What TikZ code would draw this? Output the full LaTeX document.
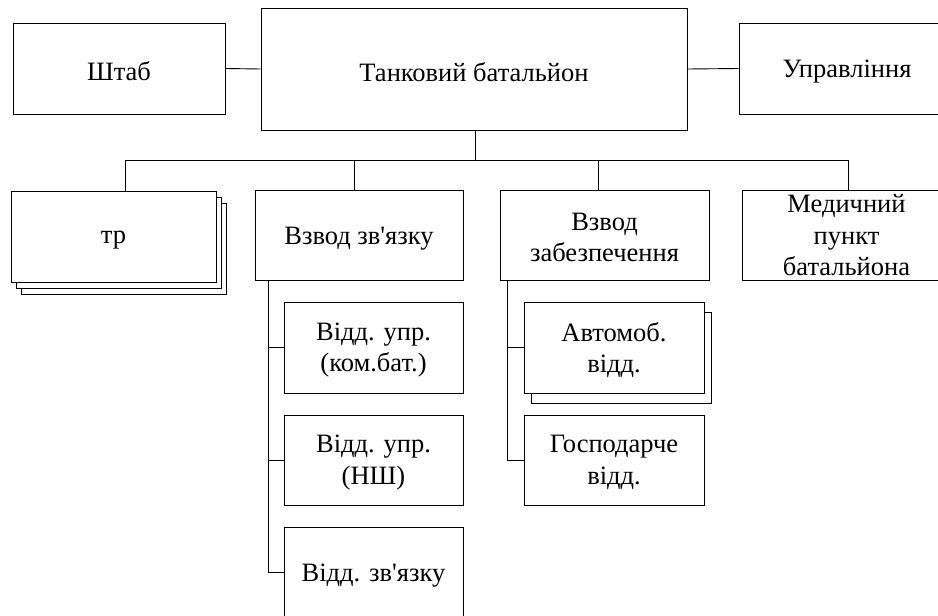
\documentclass[tikz,border=0pt]{standalone}
\usepackage{fontspec}
\newfontfamily\tnr{Liberation Serif}
\tikzset{
  box/.style={draw=black, line width=0.9pt, fill=white, inner sep=0pt},
  txt/.style={inner sep=0pt, align=center, font=\tnr\fontsize{26.5}{31.5}\selectfont},
  conn/.style={draw=black, line width=0.9pt}
}
\begin{document}
\begin{tikzpicture}[x=1pt,y=-1pt]
\useasboundingbox (0,0) rectangle (938,616);
\clip (0,0) rectangle (938,616);
% top row
\node[box, minimum width=212, minimum height=91] (stab) at (119,68.5) {};
\node[box, minimum width=426, minimum height=122] (main) at (474,69) {};
\node[box, minimum width=216, minimum height=91] (upr) at (847,68.5) {};
\node[txt] at ([yshift=-3pt]stab.center) {Штаб};
\node[txt] at ([yshift=-3pt]main.center) {Танковий батальйон};
\node[txt] at ([yshift=-3pt]upr.center) {Управління};
\draw[conn] (stab.east) -- (main.west);
\draw[conn] (main.east) -- (upr.west);
% second row
\node[box, minimum width=205, minimum height=91] (tr3) at (123.5,248.5) {};
\node[box, minimum width=205, minimum height=91] (tr2) at (118.5,242.5) {};
\node[box, minimum width=205, minimum height=91] (tr) at (113.5,236.5) {};
\node[box, minimum width=208, minimum height=90] (vzv) at (359,235) {};
\node[box, minimum width=209, minimum height=90] (vzab) at (604.5,235) {};
\node[box, minimum width=209, minimum height=90] (med) at (846.5,235) {};
\node[txt] at ([yshift=-3.5pt]tr.center) {тр};
\node[txt] at ([yshift=-3.5pt]vzv.center) {Взвод зв\textquotesingle язку};
\node[txt] at ([yshift=-2.5pt]vzab.center) {Взвод\\забезпечення};
\node[txt] at ([yshift=-0.5pt]med.center) {Медичний\\пункт\\батальйона};
% bus
\coordinate (bus) at (475,160);
\coordinate (d1) at (125,160);
\coordinate (d2) at (354,160);
\coordinate (d3) at (598,160);
\coordinate (d4) at (848,160);
\draw[conn] (main.south -| bus) -- (bus);
\draw[conn] (d1) -- (d4);
\draw[conn] (d1) -- (d1 |- tr.north);
\draw[conn] (d2) -- (d2 |- vzv.north);
\draw[conn] (d3) -- (d3 |- vzab.north);
\draw[conn] (d4) -- (d4 |- med.north);
% signal platoon children
\node[box, minimum width=179, minimum height=91] (o1) at (373.5,347.5) {};
\node[box, minimum width=179, minimum height=90] (o2) at (373.5,460) {};
\node[box, minimum width=179, minimum height=91] (o3) at (373.5,572.5) {};
\node[txt] at ([yshift=-2.5pt]o1.center) {Відд. упр.\\(ком.бат.)};
\node[txt] at ([yshift=-2.5pt]o2.center) {Відд. упр.\\(НШ)};
\node[txt] at ([yshift=-3.5pt]o3.center) {Відд. зв\textquotesingle язку};
\coordinate (s1) at (268.7,280);
\draw[conn] (s1 |- vzv.south) -- (s1 |- o3.west) -- (o3.west);
\draw[conn] (s1 |- o1.west) -- (o1.west);
\draw[conn] (s1 |- o2.west) -- (o2.west);
% supply platoon children
\node[box, minimum width=180, minimum height=91] (a1s) at (621.7,358) {};
\node[box, minimum width=180, minimum height=91] (a1) at (614,347.5) {};
\node[box, minimum width=180, minimum height=90] (a2) at (614,460) {};
\node[txt] at ([yshift=-2.5pt]a1.center) {Автомоб.\\відд.};
\node[txt] at ([yshift=-2.5pt]a2.center) {Господарче\\відд.};
\coordinate (s2) at (507.7,280);
\draw[conn] (s2 |- vzab.south) -- (s2 |- a2.west) -- (a2.west);
\draw[conn] (s2 |- a1.west) -- (a1.west);
\end{tikzpicture}
\end{document}
